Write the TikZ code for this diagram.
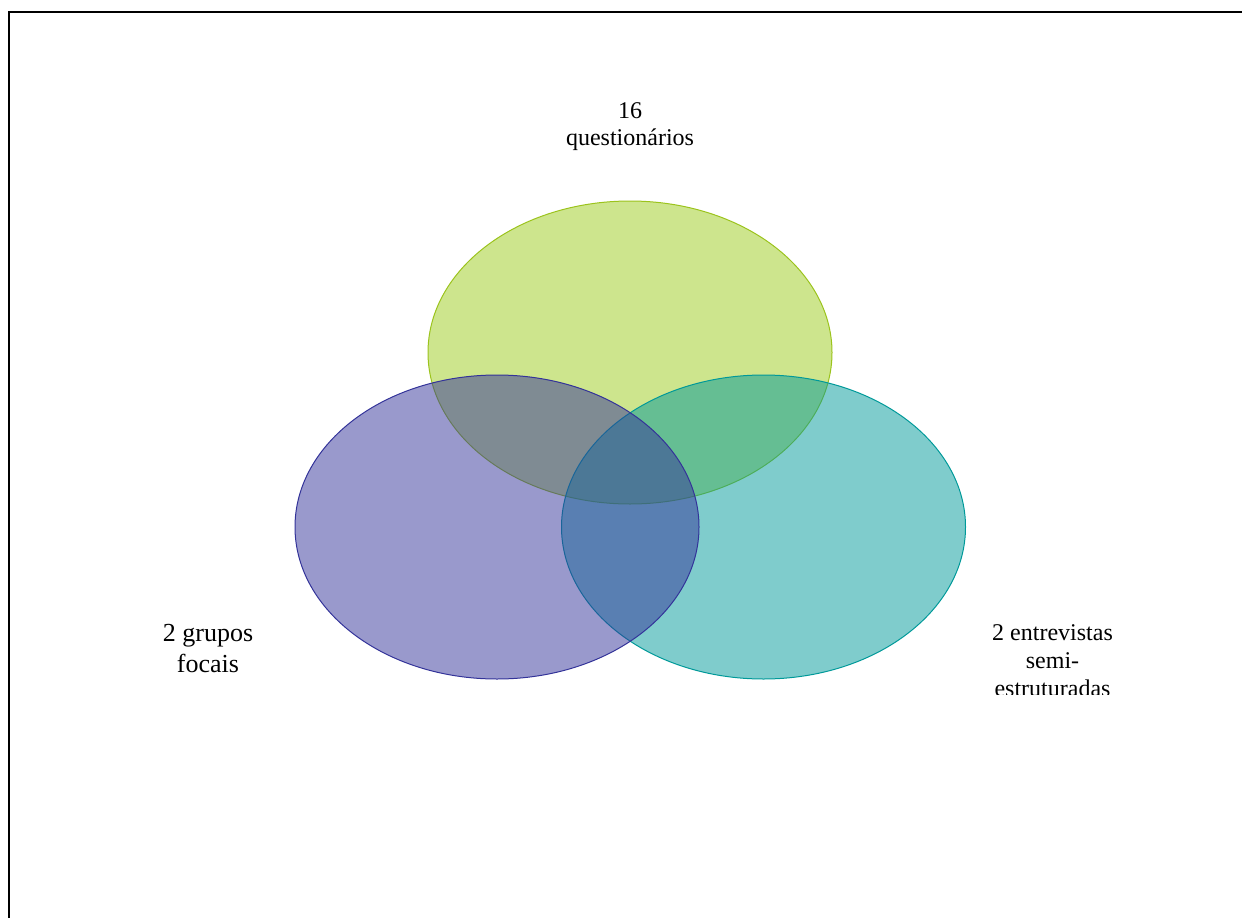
\documentclass[tikz,border=0pt]{standalone}
\usepackage{fontspec}
\setmainfont{Liberation Serif}
\definecolor{gbase}{HTML}{9BCB1C}
\definecolor{gline}{HTML}{9BC31C}
\definecolor{tbase}{HTML}{009999}
\definecolor{pbase}{HTML}{333399}
\begin{document}
\begin{tikzpicture}[x=1pt,y=-1pt,
  venn/.style={fill opacity=0.5, line width=1pt},
  lbl/.style={align=center, inner sep=0pt, text=black},
  frameline/.style={line width=2pt, black}]
\useasboundingbox (0,0) rectangle (1242,918);
% frame
\coordinate (fbl) at (9,918);
\coordinate (ftl) at (9,12);
\coordinate (ftr) at (1242,12);
\draw[frameline] (fbl) -- (ftl) -- (ftr);
% circles
\path[venn, fill=gbase, draw=gline] (630,352.5) ellipse [x radius=202, y radius=151.5];
\path[venn, fill=tbase, draw=tbase] (763.5,527) ellipse [x radius=202, y radius=152];
\path[venn, fill=pbase, draw=pbase] (497,527) ellipse [x radius=202, y radius=152];
% labels
\node[lbl, font=\fontsize{24}{27.6}\selectfont] (q) at (630,126.5) {16\\questionários};
\node[lbl, font=\fontsize{26}{31}\selectfont] (g) at (208,649) {2 grupos\\focais};
\begin{scope}
\clip (900,600) rectangle (1200,694.5);
\node[lbl, font=\fontsize{24}{28}\selectfont, anchor=north] (e) at (1052.5,624.5) {2 entrevistas\\semi-\\estruturadas};
\end{scope}
\end{tikzpicture}
\end{document}
